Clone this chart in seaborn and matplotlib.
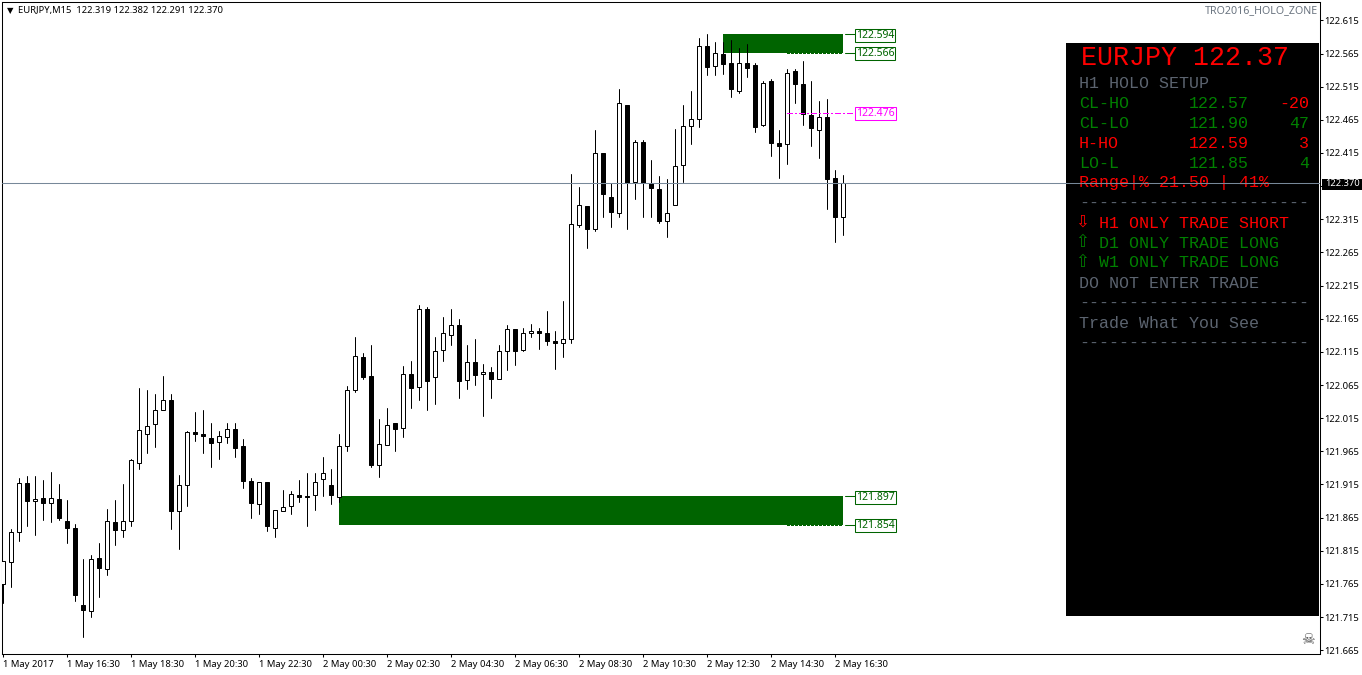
import matplotlib
matplotlib.use("Agg")
import matplotlib.pyplot as plt
from matplotlib.patches import Rectangle
from matplotlib.ticker import FixedLocator, FixedFormatter
import numpy as np
import pandas as pd
import seaborn as sns

opens = [121.765,121.798,121.843,121.917,121.890,121.895,121.887,121.893,121.860,121.849,
121.733,121.724,121.804,121.787,121.859,121.846,121.860,121.948,121.991,122.006,
122.028,122.043,121.875,121.914,121.994,121.991,121.985,121.979,121.987,121.999,
121.973,121.920,121.886,121.919,121.850,121.875,121.883,121.899,121.898,121.899,
121.923,121.914,121.896,121.973,122.058,122.108,122.078,121.944,121.974,122.007,
122.000,122.081,122.062,122.180,122.077,122.118,122.141,122.155,122.073,122.100,
122.081,122.084,122.074,122.117,122.150,122.118,122.144,122.147,122.144,122.132,
122.129,122.135,122.307,122.335,122.300,122.415,122.349,122.324,122.488,122.371,
122.432,122.369,122.361,122.312,122.336,122.397,122.456,122.466,122.577,122.546,
122.565,122.551,122.508,122.550,122.547,122.457,122.524,122.430,122.429,122.539,
122.519,122.473,122.449,122.470,122.378,122.319]
highs = [121.800,121.848,121.925,121.927,121.927,121.922,121.934,121.915,121.891,121.856,
121.802,121.808,121.827,121.878,121.892,121.915,121.954,122.060,122.057,122.051,
122.079,122.052,121.930,121.996,122.025,122.027,122.008,121.996,122.007,122.007,
121.983,121.924,121.919,121.919,121.877,121.907,121.905,121.921,121.933,121.933,
121.956,121.939,121.991,122.063,122.137,122.113,122.126,122.013,122.031,122.007,
122.093,122.101,122.185,122.182,122.137,122.167,122.179,122.164,122.126,122.135,
122.096,122.092,122.126,122.155,122.150,122.151,122.157,122.151,122.176,122.146,
122.191,122.383,122.363,122.335,122.449,122.415,122.370,122.511,122.488,122.435,
122.435,122.404,122.381,122.375,122.451,122.487,122.509,122.589,122.594,122.583,
122.583,122.585,122.574,122.580,122.550,122.524,122.527,122.449,122.541,122.542,
122.553,122.524,122.493,122.497,122.390,122.382]
lows = [121.736,121.760,121.830,121.853,121.839,121.862,121.859,121.862,121.827,121.739,
121.685,121.715,121.745,121.779,121.823,121.836,121.853,121.938,121.963,121.972,
122.028,121.848,121.818,121.883,121.980,121.963,121.941,121.954,121.978,121.956,
121.910,121.865,121.871,121.845,121.836,121.875,121.871,121.889,121.852,121.877,
121.898,121.886,121.888,121.965,122.054,122.074,121.942,121.926,121.974,121.965,
121.987,122.030,122.042,122.027,122.037,122.101,122.125,122.045,122.059,122.065,
122.019,122.045,122.074,122.087,122.095,122.116,122.137,122.119,122.125,122.089,
122.107,122.128,122.303,122.271,122.297,122.318,122.303,122.319,122.300,122.345,
122.319,122.319,122.310,122.288,122.336,122.371,122.429,122.454,122.532,122.532,
122.534,122.500,122.506,122.530,122.447,122.455,122.410,122.377,122.398,122.490,
122.457,122.425,122.407,122.330,122.280,122.291]
closes = [121.799,121.843,121.917,121.890,121.893,121.887,121.895,121.864,121.849,121.748,
121.725,121.803,121.789,121.860,121.846,121.860,121.952,121.997,122.003,122.028,
122.043,121.875,121.914,121.994,121.991,121.988,121.977,121.988,121.999,121.970,
121.920,121.887,121.919,121.852,121.877,121.881,121.901,121.896,121.896,121.919,
121.932,121.899,121.973,122.058,122.109,122.077,121.944,121.976,122.004,121.998,
122.081,122.061,122.180,122.071,122.117,122.143,122.156,122.071,122.099,122.080,
122.084,122.074,122.117,122.150,122.117,122.143,122.147,122.144,122.132,122.129,
122.135,122.308,122.337,122.300,122.415,122.353,122.326,122.491,122.370,122.432,
122.370,122.362,122.312,122.325,122.396,122.455,122.467,122.577,122.545,122.566,
122.549,122.511,122.550,122.543,122.454,122.521,122.430,122.425,122.536,122.519,
122.474,122.453,122.470,122.376,122.318,122.370]

y_ticks = [121.665,121.715,121.765,121.815,121.865,121.915,121.965,122.015,122.065,122.115,
           122.165,122.215,122.265,122.315,122.365,122.415,122.465,122.515,122.565,122.615]
x_tick_labels = ["1 May 2017","1 May 16:30","1 May 18:30","1 May 20:30","1 May 22:30",
                 "2 May 00:30","2 May 02:30","2 May 04:30","2 May 06:30","2 May 08:30",
                 "2 May 10:30","2 May 12:30","2 May 14:30","2 May 16:30"]
upper_zone = [122.566, 122.594]
lower_zone = [121.854, 121.897]
mid_level = 122.476
last_price = 122.370

W, H = 1362, 675
GREEN, MAG, RED, PGREEN, GREY = "#006400", "#ff00ff", "#ff0000", "#008000", "#5c6470"

sns.set_theme(style="white", rc={"axes.edgecolor": "black", "axes.linewidth": 0.75})
FONT = ["Noto Sans", "DejaVu Sans"]
MONO = ["Liberation Mono", "DejaVu Sans"]
plt.rcParams["font.family"] = FONT

df = pd.DataFrame({"bar": np.arange(len(opens)), "open": opens, "high": highs, "low": lows, "close": closes})
wicks = df.melt(id_vars="bar", value_vars=["high", "low"], value_name="price")

fig = plt.figure(figsize=(W / 100, H / 100), dpi=100, facecolor="white")
ax = fig.add_axes([1.5 / W, 1 - 653.5 / H, 1318 / W, 652 / H])
ax.set_xlim(-0.185, 164.565)
ax.set_ylim(121.660, 122.6435)

# zones below candles
ax.add_patch(Rectangle((90, upper_zone[0]), 15, upper_zone[1] - upper_zone[0], fc=GREEN, ec="none", zorder=1))
ax.add_patch(Rectangle((42, lower_zone[0]), 63, lower_zone[1] - lower_zone[0], fc=GREEN, ec="none", zorder=1))

sns.lineplot(data=wicks, x="bar", y="price", units="bar", estimator=None, color="black",
             linewidth=0.72, legend=False, ax=ax, zorder=2, sort=False)
bull = df[df.close >= df.open]
bear = df[df.close < df.open]
ax.bar(bull.bar, bull.close - bull.open, bottom=bull.open, width=0.5, facecolor="white",
       edgecolor="black", linewidth=0.72, zorder=3)
ax.bar(bear.bar, bear.open - bear.close, bottom=bear.close, width=0.5, facecolor="black",
       edgecolor="black", linewidth=0.72, zorder=3)

# level markers
for lvl, col, dashed in [(upper_zone[1], GREEN, False), (upper_zone[0], GREEN, True),
                         (lower_zone[1], GREEN, False), (lower_zone[0], GREEN, True),
                         (mid_level, MAG, True)]:
    if dashed:
        ax.plot([98, 106.5] if col == MAG else [98, 105], [lvl, lvl], color=col, lw=0.75, zorder=4,
                dashes=(2.7, 1.35) if col == GREEN else (5, 2.6, 1.4, 2.6), dash_capstyle="butt",
                antialiased=False)
    if col != MAG:
        ax.plot([105.2, 106.5], [lvl, lvl], color=col, lw=0.75, zorder=4)
    ax.annotate(f"{lvl:.3f}", xy=(106.62, lvl), xytext=(0, -0.72), textcoords="offset points",
                color=col, fontsize=7.5, va="center", ha="left", zorder=5,
                bbox=dict(boxstyle="square,pad=0.1", fc="white", ec=col, lw=0.75))

# spines / axes
ax.set_xlabel("")
ax.set_ylabel("")
for s in ax.spines.values():
    s.set_visible(True)
    s.set_linewidth(0.75)
    s.set_color("black")
ax.yaxis.tick_right()
ax.yaxis.set_major_locator(FixedLocator(y_ticks))
ax.yaxis.set_major_formatter(FixedFormatter([f"{v:.3f}" for v in y_ticks]))
ax.xaxis.set_major_locator(FixedLocator(np.arange(len(x_tick_labels)) * 8))
ax.xaxis.set_major_formatter(FixedFormatter(x_tick_labels))
ax.tick_params(axis="y", which="major", right=True, length=2.2, width=0.75, pad=1.2, labelsize=6.8, colors="black")
ax.tick_params(axis="x", which="major", bottom=True, length=2.2, width=0.75, pad=2.2, labelsize=6.8, colors="black")
for t in ax.get_xticklabels():
    t.set_ha("left")

# crosshair with its price tag
ax.axhline(last_price, color="#778899", lw=0.75, zorder=8)
ax.add_patch(Rectangle((1322 / W, 1 - 189.5 / H), 40 / W, 11 / H, transform=fig.transFigure,
                       fc="black", ec="none", zorder=9, clip_on=False))
ax.text(1325 / W, 1 - 184 / H, f"{last_price:.3f}", transform=fig.transFigure, color="white",
        fontsize=6.8, va="center", ha="left", clip_on=False, zorder=10)


def T(x, y, s, **kw):
    kw.setdefault("va", "center")
    kw.setdefault("family", MONO)
    kw.setdefault("fontsize", 12)
    return ax.text(x / W, 1 - y / H, s, transform=fig.transFigure, zorder=7, clip_on=False, **kw)


# black info panel
ax.add_patch(Rectangle((1066 / W, 1 - 616 / H), 253 / W, 573 / H, transform=fig.transFigure,
                       fc="black", ec="none", zorder=6))
T(1081, 58, "EURJPY 122.37", color=RED, fontsize=19.2)
T(1079, 83, "H1 HOLO SETUP", color=GREY)
rows = [("CL-HO", "122.57", "-20", PGREEN, PGREEN, RED, 103),
        ("CL-LO", "121.90", "47", PGREEN, PGREEN, PGREEN, 123),
        ("H-HO", "122.59", "3", RED, RED, RED, 143),
        ("LO-L", "121.85", "4", PGREEN, PGREEN, PGREEN, 163)]
for a, b, c, ca, cb, cc, y in rows:
    T(1079, y, a, color=ca)
    T(1189, y, b, color=cb)
    T(1309, y, c, color=cc, ha="right")
T(1079, 183, "Range|% 21.50 | 41%", color=RED)
T(1079, 203, "-" * 23, color=GREY)
T(1082, 222, "\u21e9", color=RED, fontsize=12, family="DejaVu Sans", ha="center")
T(1099, 223, "H1 ONLY TRADE SHORT", color=RED)
T(1082, 242, "\u21e7", color=PGREEN, fontsize=12, family="DejaVu Sans", ha="center")
T(1099, 243, "D1 ONLY TRADE LONG", color=PGREEN)
T(1082, 262, "\u21e7", color=PGREEN, fontsize=12, family="DejaVu Sans", ha="center")
T(1099, 263, "W1 ONLY TRADE LONG", color=PGREEN)
T(1079, 283, "DO NOT ENTER TRADE", color=GREY)
T(1079, 303, "-" * 23, color=GREY)
T(1079, 323, "Trade What You See", color=GREY)
T(1079, 343, "-" * 23, color=GREY)

T(7, 10.5, "\u25bc", color="black", fontsize=6, family="DejaVu Sans")
T(18, 11, "EURJPY,M15  122.319 122.382 122.291 122.370", color="black", fontsize=6.8, family=FONT)
T(1318, 11, "TRO2016_HOLO_ZONE", color="#6a7480", fontsize=7.7, ha="right", family=FONT)
T(1308, 640, "\u2620", color="#505050", fontsize=11, ha="center", family="DejaVu Sans")

fig.savefig("out.png", dpi=100, facecolor="white")
